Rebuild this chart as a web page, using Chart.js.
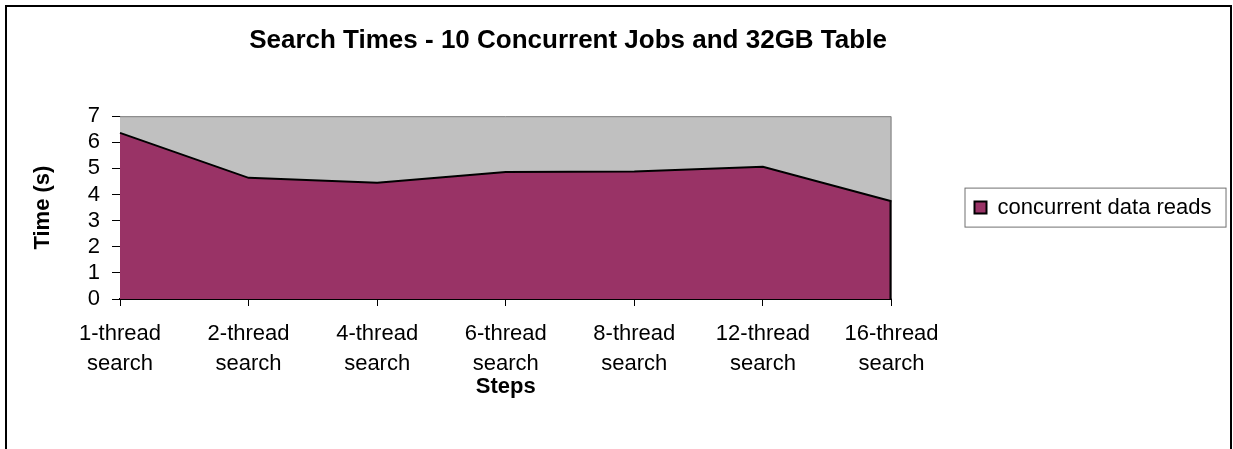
<!DOCTYPE html>
<html>
<head>
<meta charset="utf-8">
<script src="https://cdn.jsdelivr.net/npm/chart.js@4.4.1/dist/chart.umd.min.js"></script>
<style>
  html, body { margin: 0; padding: 0; background: #fff; }
  #wrap { width: 1233px; height: 449px; }
</style>
</head>
<body>
<div id="wrap"><canvas id="searchChart" width="1233" height="449"></canvas></div>
<script>
const categories = [
  ['1-thread', 'search'],
  ['2-thread', 'search'],
  ['4-thread', 'search'],
  ['6-thread', 'search'],
  ['8-thread', 'search'],
  ['12-thread', 'search'],
  ['16-thread', 'search']
];
const readTimes = [6.36, 4.64, 4.45, 4.86, 4.88, 5.06, 3.74];
const seriesName = 'concurrent data reads';
const chartTitle = 'Search Times - 10 Concurrent Jobs and 32GB Table';
const yTitle = 'Time (s)';
const xTitle = 'Steps';

const FONT = 'Liberation Sans, Arial, sans-serif';

// plot background, frame, closing edge of the area and legend box
const decor = {
  id: 'decor',
  beforeDatasetsDraw(chart) {
    const {ctx, chartArea: a} = chart;
    ctx.save();
    ctx.fillStyle = '#c0c0c0';
    ctx.fillRect(a.left, a.top, a.right - a.left, a.bottom - a.top);
    ctx.strokeStyle = '#808080';
    ctx.lineWidth = 1;
    ctx.beginPath();
    ctx.moveTo(a.left, a.top + 0.5);
    ctx.lineTo(a.right - 0.5, a.top + 0.5);
    ctx.lineTo(a.right - 0.5, a.bottom);
    ctx.stroke();
    ctx.restore();
  },
  afterDatasetsDraw(chart) {
    const {ctx} = chart;
    const pts = chart.getDatasetMeta(0).data;
    const last = pts[pts.length - 1];
    const base = chart.scales.y.getPixelForValue(0);
    ctx.save();
    ctx.strokeStyle = '#000';
    ctx.lineWidth = 2;
    ctx.beginPath();
    ctx.moveTo(last.x - 1, last.y);
    ctx.lineTo(last.x - 1, base);
    ctx.stroke();
    ctx.restore();
  },
  afterDraw(chart) {
    const {ctx} = chart;
    ctx.save();
    // outer frame
    ctx.strokeStyle = '#000';
    ctx.lineWidth = 2;
    ctx.strokeRect(6, 6, 1225, 460);
    // legend box
    const hb = chart.legend.legendHitBoxes[0];
    if (hb) {
      ctx.strokeStyle = '#707070';
      ctx.lineWidth = 1;
      ctx.strokeRect(hb.left - 9.5, hb.top - 8.5, hb.width + 24, hb.height + 17);
    }
    ctx.restore();
  }
};

new Chart(document.getElementById('searchChart'), {
  type: 'line',
  data: {
    labels: categories,
    datasets: [{
      label: seriesName,
      data: readTimes,
      fill: 'origin',
      backgroundColor: '#993366',
      borderColor: '#000',
      borderWidth: 2,
      tension: 0,
      pointRadius: 0
    }]
  },
  options: {
    responsive: false,
    animation: false,
    // negative left padding shifts the full-width title box so it centres where the original does
    layout: { padding: { left: -79, right: 18, top: 0, bottom: 0 } },
    plugins: {
      title: {
        display: true,
        text: chartTitle,
        color: '#000',
        font: { family: FONT, size: 26, weight: 'bold' },
        padding: { top: 25, bottom: 60 }
      },
      legend: {
        display: true,
        position: 'right',
        fullSize: false,
        labels: {
          color: '#000',
          font: { family: FONT, size: 22 },
          boxWidth: 12,
          boxHeight: 12,
          padding: 83
        }
      },
      tooltip: { enabled: false }
    },
    scales: {
      x: {
        offset: false,
        afterFit(scale) { scale.height = 150; },
        border: { display: true, color: '#000', width: 2 },
        grid: { drawOnChartArea: false, drawTicks: true, tickLength: 7, color: '#000' },
        ticks: {
          color: '#000',
          padding: 13,
          maxRotation: 0,
          autoSkip: false,
          font: { family: FONT, size: 22, lineHeight: 30 / 22 }
        },
        title: {
          display: true,
          text: xTitle,
          color: '#000',
          font: { family: FONT, size: 22, weight: 'bold' },
          padding: { top: 0, bottom: 49 }
        }
      },
      y: {
        min: 0,
        max: 7,
        afterFit(scale) { scale.width = 199; },
        border: { display: true, color: '#000', width: 1 },
        grid: { drawOnChartArea: false, drawTicks: true, tickLength: 8, color: '#000' },
        ticks: {
          stepSize: 1,
          autoSkip: false,
          color: '#000',
          padding: 12,
          font: { family: FONT, size: 22 }
        },
        title: {
          display: true,
          text: yTitle,
          color: '#000',
          font: { family: FONT, size: 22, weight: 'bold' },
          padding: { top: 109, bottom: 0 }
        }
      }
    }
  },
  plugins: [decor]
});
</script>
</body>
</html>
